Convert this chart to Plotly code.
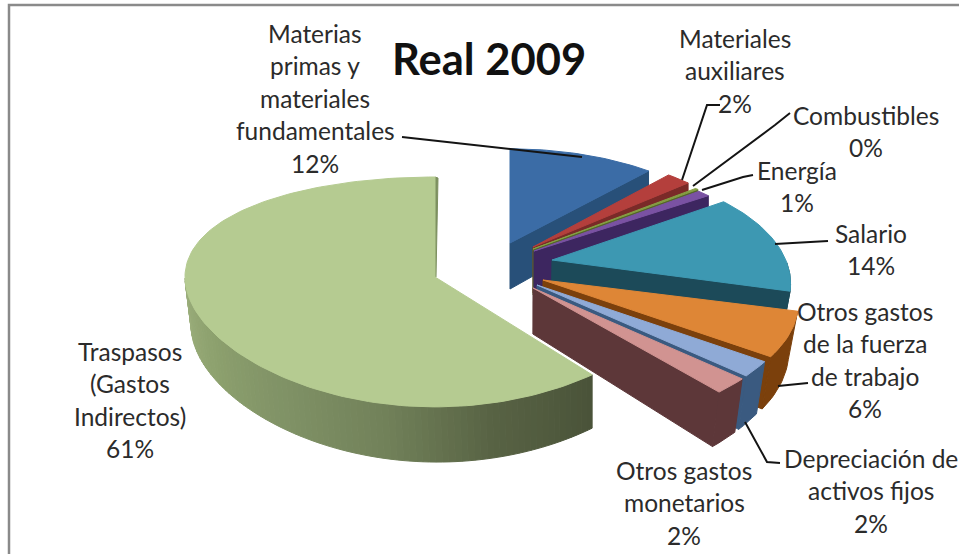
import math
import plotly.graph_objects as go

# Cost breakdown, clockwise from twelve o'clock
categories = ["Materias primas y materiales fundamentales", "Materiales auxiliares", "Combustibles",
              "Energía", "Salario", "Otros gastos de la fuerza de trabajo",
              "Depreciación de activos fijos", "Otros gastos monetarios", "Traspasos (Gastos Indirectos)"]
values = [12.0, 2.0, 0.3, 1.0, 14.0, 6.0, 2.0, 2.0, 61.0]
label_lines = [["Materias", "primas y", "materiales", "fundamentales"], ["Materiales", "auxiliares"],
               ["Combustibles"], ["Energía"], ["Salario"], ["Otros gastos", "de la fuerza", "de trabajo"],
               ["Depreciación de", "activos fijos"], ["Otros gastos", "monetarios"],
               ["Traspasos", "(Gastos", "Indirectos)"]]
chart_title = "Real 2009"

# Appearance of each slice
top_colors = ["#3b6ca6", "#b43f3c", "#86a044", "#7a52a3", "#3d98b2", "#de8636", "#8faad6", "#d19391", "#b5cb91"]
wall_colors = ["#285079", "#7a2a28", "#55662a", "#3d2660", "#1c4a59", "#7b400c", "#3a5a80", "#5d3739", "#7d9060"]
apex_shift = [(-20, -22), (3, -18), (3, -16), (4, -14), (22, -5), (13, 15), (7, 20), (3, 23), (-95, 12)]
rx_scale = [0.93, 0.91, 0.95, 0.95, 0.935, 1.0, 1.0, 1.0, 1.0]
ry_scale = [1.0, 1.0, 0.95, 0.95, 1.0, 1.0, 1.0, 1.0, 1.0]
tilt_strength = [0.2, 0.2, 0.2, 0.2, 0.2, 0.2, 0.2, 0.2, 0.13]
x_foreshorten = [1, 1, 1, 1, 1, 1, 1, 1, 0]
wall_depth = [46, 46, 46, 46, 46, 46, 46, 46, 48]
wall_lean = [(0.0, 530), (0.0, 530), (0.0, 530), (0.0, 530), (0.035, 530), (0.035, 530), (0.035, 530), (0.035, 530), (0.015, 590)]
label_anchor = [(315, 33), (735, 38), (866, 115), (797, 170), (871, 233), (865, 311), (871, 458), (684, 470), (130, 351)]
leaders = [[(402, 137), (582, 157)], [(720, 105), (707, 105), (682, 180)], [(790, 113), (775, 125), (693, 186)],
           [(753, 175), (743, 177), (702, 190)], [(828, 241), (775, 244)], [(808, 383), (778, 386)],
           [(780, 463), (767, 462), (745, 422)]]

CENTER = (530, 265)
RX, RY = 250, 113
# Shading of the large slice's rim, dark at the right end and lighter toward the left
GREEN_STOPS = [(0x4a, 0x53, 0x39), (0x58, 0x63, 0x44), (0x72, 0x82, 0x5a), (0x80, 0x92, 0x66), (0x8d, 0xa1, 0x6e), (0x9b, 0xae, 0x7b)]


def project(theta, radius, k):
    """Map a point on the tilted disc (clockwise angle from the top) to the page."""
    u, v = radius * math.sin(theta), -radius * math.cos(theta)
    s = 1 / (1 - tilt_strength[k] * v)
    sx = s if x_foreshorten[k] else 1.0
    return (CENTER[0] + apex_shift[k][0] + RX * rx_scale[k] * u * sx,
            CENTER[1] + apex_shift[k][1] + RY * ry_scale[k] * v * s, s)


def polygon(points, color):
    xs = [p[0] for p in points] + [points[0][0]]
    ys = [p[1] for p in points] + [points[0][1]]
    return go.Scatter(x=xs, y=ys, mode="lines", fill="toself", fillcolor=color,
                      line=dict(color=color, width=1), hoverinfo="skip", showlegend=False)


def shade(t):
    pos = t * (len(GREEN_STOPS) - 1)
    i = min(int(pos), len(GREEN_STOPS) - 2)
    f = pos - i
    rgb = [round(a + (b - a) * f) for a, b in zip(GREEN_STOPS[i], GREEN_STOPS[i + 1])]
    return "rgb({},{},{})".format(*rgb)


def slice_traces(k, start, end):
    traces = []
    top, wall = top_colors[k], wall_colors[k]
    lean, pivot = wall_lean[k]

    def drop(p):
        return p[0] - (p[0] - pivot) * lean, p[1] + wall_depth[k] * p[2]

    steps = max(4, int((end - start) / math.radians(1.5)))
    angles = [start + (end - start) * i / steps for i in range(steps + 1)]
    rim = [project(a, 1, k) for a in angles]
    apex = project(0, 0, k)
    # Radial faces that turn toward the viewer
    if end < math.pi:
        traces.append(polygon([apex, rim[-1], drop(rim[-1]), drop(apex)], wall))
    else:
        # The far edge of the large slice only shows as a thin strip
        tip = rim[-1]
        traces.append(polygon([apex, tip, (tip[0] + 3, tip[1] + 1), (apex[0] + 1, apex[1])], wall))
    # Outer rim, front half of the disc only
    front = [i for i, a in enumerate(angles) if math.pi / 2 < a < 3 * math.pi / 2]
    if k == 8:
        for n, i in enumerate(front[:-1]):
            color = shade(n / max(1, len(front) - 2))
            traces.append(polygon([rim[i], rim[i + 1], drop(rim[i + 1]), drop(rim[i])], color))
    elif len(front) > 1:
        upper = [rim[i] for i in front]
        traces.append(polygon(upper + [drop(p) for p in reversed(upper)], wall))
    traces.append(polygon([apex] + rim, top))
    return traces


total = sum(values)
edges = [0.0]
for value in values:
    edges.append(edges[-1] + value / total * 2 * math.pi)

fig = go.Figure()
# The large slice sits behind the others, then the rest run clockwise
for k in [8, 0, 1, 2, 3, 4, 5, 6, 7]:
    for trace in slice_traces(k, edges[k], edges[k + 1]):
        fig.add_trace(trace)

for path in leaders:
    fig.add_trace(go.Scatter(x=[p[0] for p in path], y=[p[1] for p in path], mode="lines",
                             line=dict(color="#141414", width=2), hoverinfo="skip", showlegend=False))

LINE_GAP = 32.5
for lines, value, anchor in zip(label_lines, values, label_anchor):
    rows = lines + [f"{round(value / total * 100)}%"]
    for i, row in enumerate(rows):
        fig.add_annotation(x=anchor[0], y=anchor[1] + i * LINE_GAP, text=row, showarrow=False,
                           xanchor="center", yanchor="middle",
                           font=dict(family="Lato", size=24.5, color="#2b2b2b"))

fig.add_annotation(x=489, y=58, text=f"<b>{chart_title}</b>", showarrow=False,
                   font=dict(family="Lato", size=43.5, color="#111111"))

fig.update_layout(
    width=959, height=554, margin=dict(l=0, r=0, t=0, b=0),
    paper_bgcolor="white", plot_bgcolor="white", showlegend=False,
    xaxis=dict(range=[0, 959], visible=False, fixedrange=True),
    yaxis=dict(range=[554, 0], visible=False, fixedrange=True),
    shapes=[dict(type="rect", xref="x", yref="y", x0=9, y0=5, x1=1000, y1=600,
                 line=dict(color="#8a8a8a", width=2.5))],
)
fig.write_html("out.html")
